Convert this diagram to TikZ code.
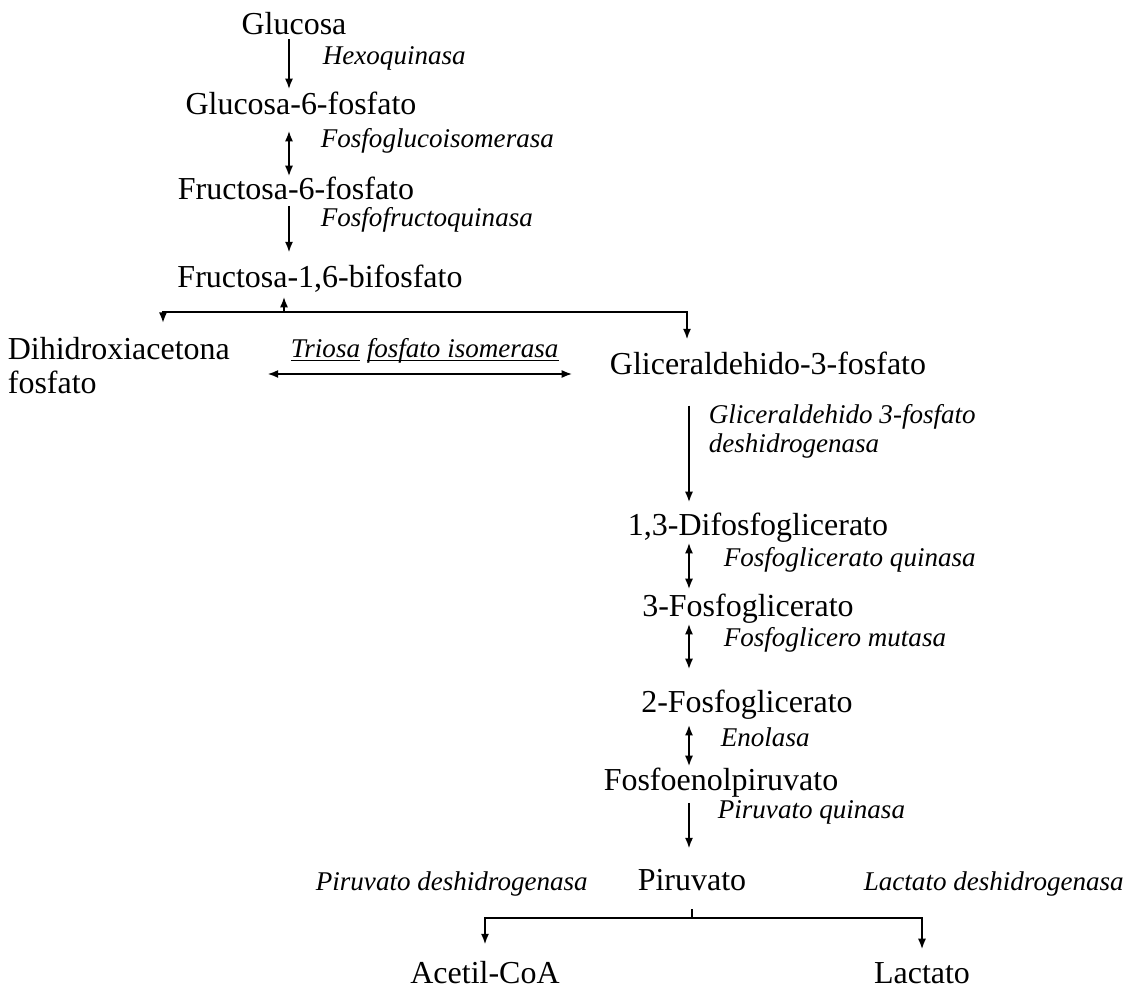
\documentclass[tikz,border=0pt]{standalone}
\usepackage{fontspec}
\setmainfont{Liberation Serif}
\usetikzlibrary{
  arrows.meta,
}
\newcommand{\metfont}{\fontsize{18.2}{19.8}\selectfont}
\newcommand{\enzfont}{\fontsize{15.4}{16.4}\selectfont\itshape}
\newcommand{\uln}[1]{\underline{\smash{#1}}}
\tikzset{
  glycolysis/.style={
    x=0.02cm,
    y=-0.02cm,
    line width=1pt,
    >={Latex[length=6pt,width=4.6pt]}
  },
  txt/.style={
    inner sep=0pt,
    font=\metfont
  },
  met/.style={
    txt,
    anchor=base,
    text height=12pt,
    text depth=2pt
  },
  enz/.style={
    inner sep=0pt,
    anchor=base west,
    font=\enzfont
  }
}

\begin{document}
\begin{tikzpicture}[glycolysis]
\useasboundingbox (0,0) rectangle (1130,989);
\coordinate (axL)   at (289,0);
\coordinate (axR)   at (689,0);
\coordinate (fork1) at (284,312);
\coordinate (colL)  at (163,312);
\coordinate (colR)  at (687,312);
\coordinate (isoY)  at (0,374);
\coordinate (fork2) at (692,918);

\node[met] (glc)  at (294,35)  {Glucosa};
\node[met] (g6p)  at (301,115) {Glucosa-6-fosfato};
\node[met] (f6p)  at (296,200) {Fructosa-6-fosfato};
\node[met] (f16)  at (320,288) {Fructosa-1,6-bifosfato};
\node[txt,align=left,anchor=north west] (dhap) at (7,336) {Dihidroxiacetona\\fosfato};
\node[met] (gap)  at (768,375) {Gliceraldehido-3-fosfato};
\node[met] (bpg)  at (758,536) {1,3-Difosfoglicerato};
\node[met] (pg3)  at (748,617) {3-Fosfoglicerato};
\node[met] (pg2)  at (747,713) {2-Fosfoglicerato};
\node[met] (pep)  at (721,790) {Fosfoenolpiruvato};
\node[met] (pyr)  at (692,890) {Piruvato};
\node[met] (acoa) at (485,983) {Acetil-CoA};
\node[met] (lac)  at (922,983) {Lactato};

\node[enz] (hk)  at (322,65)  {Hexoquinasa};
\node[enz] (pgi) at (320,148) {Fosfoglucoisomerasa};
\node[enz] (pfk) at (320,227) {Fosfofructoquinasa};
\node[enz] (tpi) at (290,358) {\uln{Triosa} \uln{fosfato isomerasa}};
\node[enz,align=left,anchor=north west] (gapdh) at (708,404) {Gliceraldehido 3-fosfato\\deshidrogenasa};
\node[enz] (pgk) at (723,567) {Fosfoglicerato quinasa};
\node[enz] (pgm) at (723,647) {Fosfoglicero mutasa};
\node[enz] (eno) at (720,747) {Enolasa};
\node[enz] (pk)  at (717,819) {Piruvato quinasa};
\node[enz] (pdh) at (315,890) {Piruvato deshidrogenasa};
\node[enz] (ldh) at (863,890) {Lactato deshidrogenasa};

% upper chain
\draw[->,shorten >=2.2pt] (glc.south -| axL) -- (g6p.north -| axL);
\draw[<->,shorten <=6.5pt,shorten >=1pt] (g6p.south -| axL) -- (f6p.north -| axL);
\draw[->,shorten <=0.9pt,shorten >=7.8pt] (f6p.south -| axL) -- (f16.north -| axL);

% split into trioses
\draw[->,shorten >=2.5pt] (fork1) -- (fork1 |- f16.south);
\draw[->,shorten >=7.4pt] (fork1) -| (dhap.north -| colL);
\draw[->,shorten >=7.8pt] (fork1) -| (gap.north -| colR);
\draw[<->,shorten <=21pt,shorten >=21pt] (dhap.east |- isoY) -- (gap.west |- isoY);

% lower chain
\draw[->,shorten <=15pt,shorten >=6.7pt] (gap.south -| axR) -- (bpg.north -| axR);
\draw[<->,shorten <=1.4pt,shorten >=3.3pt] (bpg.south -| axR) -- (pg3.north -| axR);
\draw[<->,shorten <=1.4pt,shorten >=12.4pt] (pg3.south -| axR) -- (pg2.north -| axR);
\draw[<->,shorten <=4.3pt,shorten >=1pt] (pg2.south -| axR) -- (pep.north -| axR);
\draw[->,shorten <=4.8pt,shorten >=11.2pt] (pep.south -| axR) -- (pyr.north -| axR);

% fate of pyruvate
\draw[shorten >=8.2pt] (fork2) -- (fork2 |- pyr.south);
\draw[->,shorten >=9.5pt] (fork2) -| (acoa);
\draw[->,shorten >=6.7pt] (fork2) -| (lac);
\end{tikzpicture}
\end{document}
